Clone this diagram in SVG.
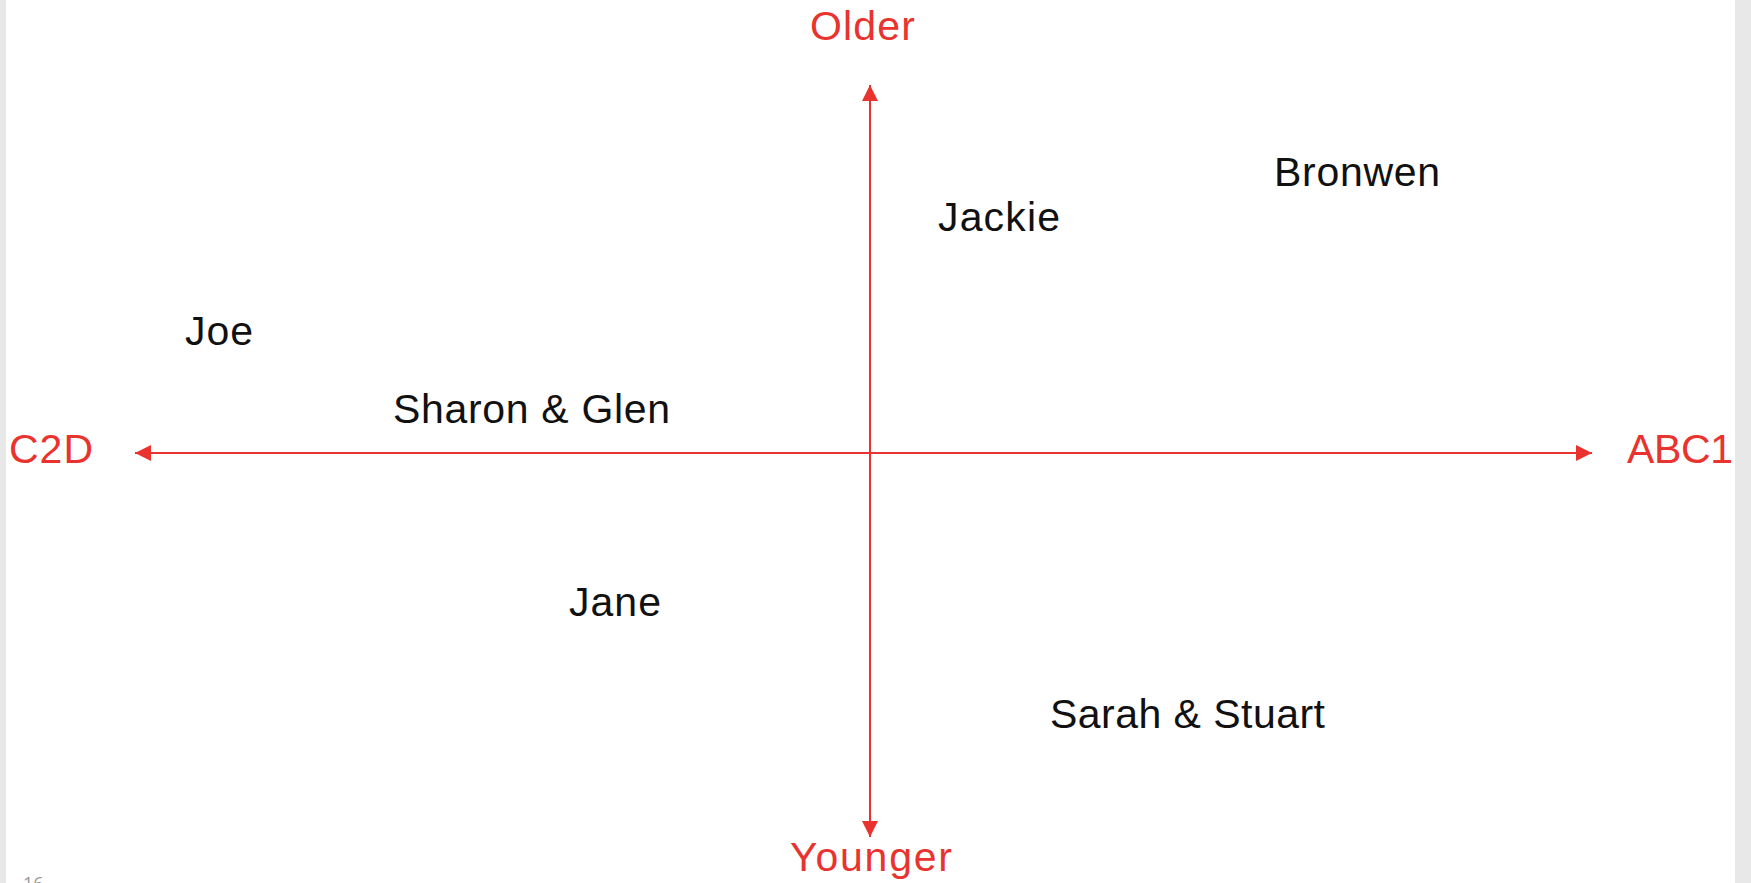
<svg xmlns="http://www.w3.org/2000/svg" width="1751" height="883" viewBox="0 0 1751 883">
<style>
.axis{stroke:#e8332e;stroke-width:2;fill:none}
.alabel{font-family:"Liberation Sans",Arial,sans-serif;font-size:41px;fill:#e8332e}
.name{font-family:"Liberation Sans",Arial,sans-serif;font-size:41px;fill:#111}
.page{font-family:"Open Sans","Liberation Sans",sans-serif;font-size:18px;fill:#999}
</style>
<defs>
<marker id="ah" viewBox="0 0 16 16" refX="16" refY="8" markerWidth="16" markerHeight="16" markerUnits="userSpaceOnUse" orient="auto">
<path d="M0,0 L16,8 L0,16 Z" fill="#e8332e"/>
</marker>
</defs>
<rect x="0" y="0" width="1751" height="883" fill="#ffffff"/>
<rect x="0" y="0" width="6" height="883" fill="#e8e8e8"/>
<rect x="1735" y="0" width="16" height="883" fill="#e8e8e8"/>
<g id="connectors">
<line class="axis" x1="870" y1="453" x2="870" y2="85" marker-end="url(#ah)"/>
<line class="axis" x1="870" y1="453" x2="870" y2="837" marker-end="url(#ah)"/>
<line class="axis" x1="870" y1="453" x2="135" y2="453" marker-end="url(#ah)"/>
<line class="axis" x1="870" y1="453" x2="1592" y2="453" marker-end="url(#ah)"/>
</g>
<g id="older"><text class="alabel" x="810" y="40" textLength="105">Older</text></g>
<g id="younger"><text class="alabel" x="790" y="871" textLength="162">Younger</text></g>
<g id="c2d"><text class="alabel" x="9" y="463" textLength="84">C2D</text></g>
<g id="abc1"><text class="alabel" x="1627" y="463" textLength="106">ABC1</text></g>
<g id="bronwen"><text class="name" x="1274" y="186" textLength="166">Bronwen</text></g>
<g id="jackie"><text class="name" x="938" y="231" textLength="122">Jackie</text></g>
<g id="joe"><text class="name" x="185" y="345" textLength="68">Joe</text></g>
<g id="sharon-glen"><text class="name" x="393" y="423" textLength="277">Sharon &amp; Glen</text></g>
<g id="jane"><text class="name" x="569" y="616" textLength="92">Jane</text></g>
<g id="sarah-stuart"><text class="name" x="1050" y="728" textLength="275">Sarah &amp; Stuart</text></g>
<text class="page" x="23" y="890">16</text>
</svg>
